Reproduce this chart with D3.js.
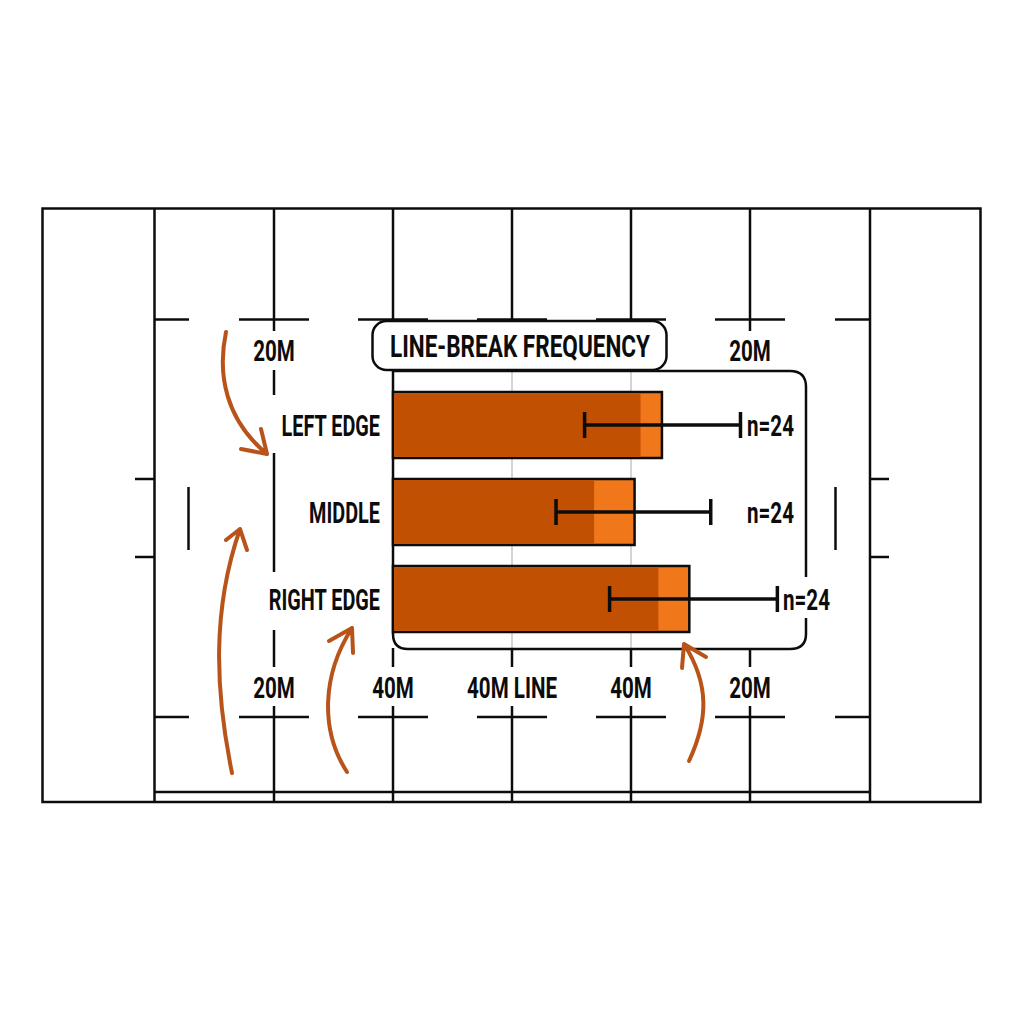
<!DOCTYPE html>
<html>
<head>
<meta charset="utf-8">
<script src="https://cdn.jsdelivr.net/npm/d3@7"></script>
<style>
  html, body { margin: 0; padding: 0; background: #fff; }
  text { font-family: "Roboto", sans-serif; font-weight: 700; fill: #0c0c0c; }
</style>
</head>
<body>
<svg id="chart" width="1024" height="1024"></svg>
<script>
const categories = ['LEFT EDGE', 'MIDDLE', 'RIGHT EDGE']
const barValues = [22.6, 20.3, 24.9]
const darkValues = [20.8, 16.9, 22.3]
const errLow = [16.1, 13.7, 18.2]
const errHigh = [29.2, 26.7, 32.3]
const sampleLabels = ['n=24', 'n=24', 'n=24']
const fieldLines = [-10, 0, 10, 20, 30]
const axisLabels = ['20M', '40M', '40M LINE', '40M', '20M']
const topLabels = ['20M', '20M']
const title = 'LINE-BREAK FREQUENCY'

const svg = d3.select('#chart')
const ink = '#0c0c0c'
const darkOrange = '#c25002'
const lightOrange = '#f0781a'
const arrowColor = '#b8541a'

// bar values and the pitch share the one horizontal scale
const x = d3.scaleLinear().domain([0, 30]).range([393, 750])
const y = d3.scaleBand().domain(categories).range([392, 632]).paddingInner(21 / 87).paddingOuter(0)

function line(g, x1, y1, x2, y2, w, color) {
  return g.append('line')
    .attr('x1', x1).attr('y1', y1).attr('x2', x2).attr('y2', y2)
    .attr('stroke', color || ink).attr('stroke-width', w || 2.5)
}

// no narrow font installed, so squeeze Roboto
function label(g, px, py, str, size, anchor, squeeze) {
  return g.append('text')
    .attr('transform', `translate(${px},${py}) scale(${squeeze || 0.71},1)`)
    .attr('text-anchor', anchor || 'middle')
    .attr('font-size', size)
    .text(str)
}

// pitch
const pitch = svg.append('g')
pitch.append('rect').attr('x', 42.5).attr('y', 208.5).attr('width', 938).attr('height', 593.5)
  .attr('fill', 'none').attr('stroke', ink).attr('stroke-width', 2.5)
line(pitch, 154.5, 208, 154.5, 802)
line(pitch, 870, 208, 870, 802)
line(pitch, 154, 792, 870, 792)

fieldLines.forEach(v => {
  line(pitch, x(v), 208, x(v), 331)
  line(pitch, x(v), 706, x(v), 802)
})

// dashes along the 5m lines
;[319.5, 717].forEach(yy => {
  line(pitch, 154, yy, 189, yy)
  fieldLines.forEach(v => line(pitch, x(v) - 35, yy, x(v) + 35, yy))
  line(pitch, 835, yy, 870, yy)
})

// left 20m line pieces
line(pitch, x(-10), 370, x(-10), 395)
line(pitch, x(-10), 453, x(-10), 572)
line(pitch, x(-10), 630, x(-10), 667)
// short ticks under the panel
fieldLines.slice(1).forEach(v => line(pitch, x(v), 648, x(v), 667))

// touch marks
;[479, 557].forEach(yy => {
  line(pitch, 135, yy, 154, yy)
  line(pitch, 870, yy, 889, yy)
})
line(pitch, 188.5, 487, 188.5, 550)
line(pitch, 835.5, 487, 835.5, 550)

// chart panel
;[10, 20].forEach(v => line(pitch, x(v), 371, x(v), 649, 2, '#d4d4d4'))
pitch.append('path')
  .attr('d', 'M393 371H790Q806 371 806 387V577M806 618V634Q806 649 790 649H408Q393 649 393 634V371')
  .attr('fill', 'none').attr('stroke', ink).attr('stroke-width', 2.5)

// bars
const bars = svg.append('g')
bars.selectAll('rect.full').data(categories).join('rect').attr('class', 'full')
  .attr('x', x(0)).attr('y', d => y(d))
  .attr('width', (d, i) => x(barValues[i]) - x(0)).attr('height', y.bandwidth())
  .attr('fill', lightOrange).attr('stroke', ink).attr('stroke-width', 2.5)
bars.selectAll('rect.dark').data(categories).join('rect').attr('class', 'dark')
  .attr('x', x(0) + 1.25).attr('y', d => y(d) + 1.25)
  .attr('width', (d, i) => x(darkValues[i]) - x(0) - 1.25).attr('height', y.bandwidth() - 2.5)
  .attr('fill', darkOrange)

// error bars
const errs = svg.append('g')
categories.forEach((c, i) => {
  const my = y(c) + y.bandwidth() / 2
  line(errs, x(errLow[i]), my, x(errHigh[i]), my, 3.5)
  line(errs, x(errLow[i]), my - 13, x(errLow[i]), my + 13, 3.5)
  line(errs, x(errHigh[i]), my - 13, x(errHigh[i]), my + 13, 3.5)
})

// text
const labels = svg.append('g')
categories.forEach((c, i) => {
  label(labels, 380, y(c) + y.bandwidth() / 2 + 11, c, 29, 'end', 0.685)
})
const nX = [747, 747, 783]
sampleLabels.forEach((s, i) => {
  label(labels, nX[i], y(categories[i]) + y.bandwidth() / 2 + 11, s, 29, 'start')
})
fieldLines.forEach((v, i) => {
  label(labels, x(v), 698, axisLabels[i], 29)
})
topLabels.forEach((s, i) => {
  label(labels, x(i ? 30 : -10), 361, s, 29)
})

// title box
svg.append('rect').attr('x', 372.5).attr('y', 321).attr('width', 294).attr('height', 49).attr('rx', 14)
  .attr('fill', '#fff').attr('stroke', ink).attr('stroke-width', 2.5)
label(svg, 520, 357, title, 32, 'middle', 0.705)

// arrows
const arrows = svg.append('g').attr('fill', 'none').attr('stroke', arrowColor)
  .attr('stroke-width', 4).attr('stroke-linecap', 'round').attr('stroke-linejoin', 'round')
;[
  'M226 332C217 375 226 420 267 454M241 449L267 454L261 429',
  'M232 773C215 690 212 610 240 529M226 540L240 529L247 550',
  'M347 772C320 730 322 675 352 628M329 641L352 628L353 653',
  'M689 761C708 720 710 685 684 644M682 668L684 644L706 657'
].forEach(d => arrows.append('path').attr('d', d))
</script>
</body>
</html>
